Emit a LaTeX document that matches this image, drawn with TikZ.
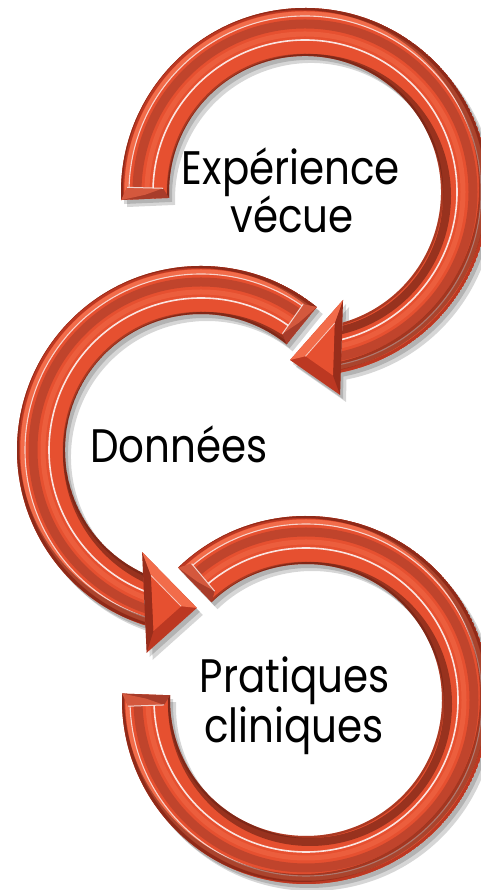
\documentclass[tikz,border=0pt]{standalone}
\usepackage{fontspec}
\newfontfamily\labelfont{Poppins}[FakeStretch=0.86]
\usetikzlibrary{calc}
\definecolor{abase}{RGB}{230,80,48}
\definecolor{alight}{RGB}{242,108,74}
\definecolor{abrown}{RGB}{168,60,42}
\definecolor{adark}{RGB}{100,30,18}
\definecolor{arim}{RGB}{188,56,34}

% full outlines (local coordinates, origin at ring centre)
\newcommand{\fullA}{(182.5:184) arc[start angle=182.5,end angle=-78.9,radius=184] -- (-80.2:206) -- (-95.1:168.7) -- (-70.6:114.5) -- (-73.95:136) arc[start angle=-73.95,end angle=182.5,radius=136] -- cycle}
\newcommand{\shaftA}{(182.5:184) arc[start angle=182.5,end angle=-78.9,radius=184] -- (-73.95:136) arc[start angle=-73.95,end angle=182.5,radius=136] -- cycle}
\newcommand{\fullB}{(51:184) arc[start angle=51,end angle=252.5,radius=184] -- (255:210) -- (268.5:158) -- (240:117.8) -- (244.9:136) arc[start angle=244.9,end angle=51,radius=136] -- cycle}
\newcommand{\shaftB}{(51:184) arc[start angle=51,end angle=252.5,radius=184] -- (244.9:136) arc[start angle=244.9,end angle=51,radius=136] -- cycle}
\newcommand{\fullC}{(134:184) arc[start angle=134,end angle=-182,radius=184] -- (-182:136) arc[start angle=-182,end angle=134,radius=136] -- cycle}

\newcommand{\ringstripes}{%
  \draw[arim, line width=3pt] (0,0) circle (182.5);
  \draw[alight, line width=4pt] (0,0) circle (178.5);
  \draw[white, opacity=.75, line width=1.1pt] (0,0) circle (176);
  \draw[abrown, opacity=.6, line width=9pt] (0,0) circle (168);
  \draw[alight, opacity=.5, line width=5pt] (0,0) circle (158);
  \draw[white, opacity=.85, line width=1.6pt] (0,0) circle (152);
  \draw[adark, opacity=.6, line width=8pt] (4,-4) circle (138);
  \draw[adark, opacity=.5, line width=8pt] (-4,4) circle (182);
  \draw[adark, opacity=.45, line width=2.5pt] (0,0) circle (137);
}
\newcommand{\tailbevel}[2]{%
  \fill[abrown] (#1:184) -- (#1:136) -- ({#1+#2*4}:142) -- ({#1+#2*4}:178) -- cycle;
  \fill[alight,opacity=.6] (#1:184) -- ({#1+#2*4}:178) -- ({#1+#2*4}:142) -- ({#1+#2*1.5}:160) -- cycle;
  \draw[white,opacity=.75,line width=1pt] ({#1+#2*4}:142) -- ({#1+#2*4}:178);
}
\newcommand{\headbevel}[3]{%
  \coordinate (hC) at ($0.3333*(#1)+0.3333*(#2)+0.3333*(#3)$);
  \fill[arim] (#1) -- (#2) -- (#3) -- cycle;
  \fill[adark,opacity=.4] (#1) -- (#3) -- ($(hC)!0.55!(#3)$) -- ($(hC)!0.55!(#1)$) -- cycle;
  \fill[alight] (#2) -- (#3) -- ($(hC)!0.55!(#3)$) -- ($(hC)!0.55!(#2)$) -- cycle;
  \fill[abase] ($(hC)!0.55!(#1)$) -- ($(hC)!0.55!(#2)$) -- ($(hC)!0.55!(#3)$) -- cycle;
  \draw[white,opacity=.7,line width=0.8pt] ($(hC)!0.55!(#2)$) -- ($(hC)!0.55!(#3)$);
}

\tikzset{
  shad/.style={fill=black, opacity=0.16},
  lbl/.style={font=\labelfont\fontsize{47}{48}\selectfont, inner sep=0pt, anchor=base, text=black},
}

\begin{document}
\begin{tikzpicture}[x=1pt,y=1pt]
\useasboundingbox (0,0) rectangle (481,890);
\fill[white] (0,0) rectangle (481,890);

% ---------- shadows ----------
\begin{scope}[shift={(308,694)}] \fill[shad] \fullA; \end{scope}
\begin{scope}[shift={(311,691)}] \fill[shad] \fullA; \end{scope}
\begin{scope}[shift={(204,436)}] \fill[shad] \fullB; \end{scope}
\begin{scope}[shift={(207,433)}] \fill[shad] \fullB; \end{scope}
\begin{scope}[shift={(309,186)}] \fill[shad] \fullC; \end{scope}
\begin{scope}[shift={(312,183)}] \fill[shad] \fullC; \end{scope}

% ---------- arrow 1 (top) ----------
\begin{scope}[shift={(305,698)}]
  \begin{scope}
    \clip \shaftA;
    \fill[abase] \shaftA;
    \ringstripes
  \end{scope}
  \tailbevel{182.5}{-1}
  \coordinate (aO) at (-80.2:206);
  \coordinate (aT) at (-95.1:168.7);
  \coordinate (aI) at (-70.6:114.5);
  \headbevel{aO}{aT}{aI}
\end{scope}

% ---------- arrow 2 (middle) ----------
\begin{scope}[shift={(201,440)}]
  \begin{scope}
    \clip \shaftB;
    \fill[abase] \shaftB;
    \ringstripes
  \end{scope}
  \tailbevel{51}{1}
  \coordinate (bO) at (255:210);
  \coordinate (bT) at (268.5:158);
  \coordinate (bI) at (240:117.8);
  \headbevel{bO}{bT}{bI}
\end{scope}

% ---------- arrow 3 (bottom) ----------
\begin{scope}[shift={(306,190)}]
  \begin{scope}
    \clip \fullC;
    \fill[abase] \fullC;
    \ringstripes
  \end{scope}
  \tailbevel{134}{-1}
  \tailbevel{-182}{1}
\end{scope}

% ---------- labels ----------
\node[lbl] (exp) at (291,705) {Expérience};
\node[lbl] (vec) at (292,657) {vécue};
\node[lbl] (don) at (179,427) {Données};
\node[lbl] (pra) at (294.5,197) {Pratiques};
\node[lbl] (cli) at (294,147) {cliniques};
\end{tikzpicture}
\end{document}
